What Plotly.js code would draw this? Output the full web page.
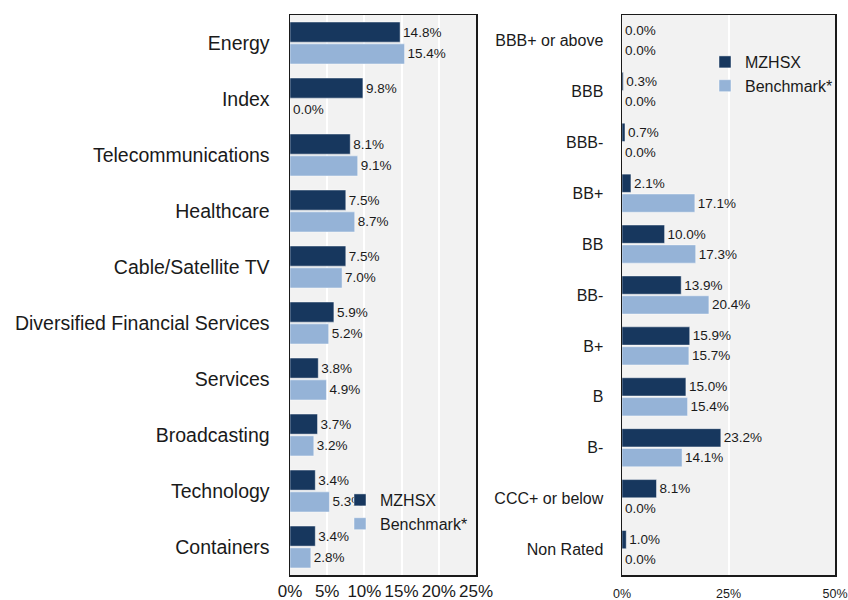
<!DOCTYPE html>
<html>
<head>
<meta charset="utf-8">
<script src="https://cdn.plot.ly/plotly-3.0.1.min.js"></script>
<style>
html,body{margin:0;padding:0;background:#fff;}
#chart{width:848px;height:600px;}
</style>
</head>
<body>
<div id="chart"></div>
<script>
// ---- Data ----
const sectors = ["Energy", "Index", "Telecommunications", "Healthcare", "Cable/Satellite TV",
  "Diversified Financial Services", "Services", "Broadcasting", "Technology", "Containers"];
const sectorFund = [14.8, 9.8, 8.1, 7.5, 7.5, 5.9, 3.8, 3.7, 3.4, 3.4];
const sectorBench = [15.4, 0.0, 9.1, 8.7, 7.0, 5.2, 4.9, 3.2, 5.3, 2.8];

const ratings = ["BBB+ or above", "BBB", "BBB-", "BB+", "BB", "BB-", "B+", "B", "B-", "CCC+ or below", "Non Rated"];
const ratingFund = [0.0, 0.3, 0.7, 2.1, 10.0, 13.9, 15.9, 15.0, 23.2, 8.1, 1.0];
const ratingBench = [0.0, 0.0, 0.0, 17.1, 17.3, 20.4, 15.7, 15.4, 14.1, 0.0, 0.0];

const seriesNames = ["MZHSX", "Benchmark*"];
const leftTicks = [0, 5, 10, 15, 20, 25];
const rightTicks = [0, 25, 50];

// ---- Styles ----
const FONT = '"Liberation Sans", Arial, Helvetica, sans-serif';
const DARK = '#17375e';
const LIGHT = '#95b3d7';
const TXT = '#1a1a1a';

function barTrace(name, x, y, color, xa, ya, legend) {
  return {
    type: 'bar', orientation: 'h', name: name, x: x, y: y,
    xaxis: xa, yaxis: ya, legend: legend,
    marker: {color: color, line: {color: 'rgba(255,255,255,0.45)', width: 1}},
    text: x.map(v => v.toFixed(1) + '%'),
    textposition: 'outside', cliponaxis: false, constraintext: 'none',
    textfont: {family: FONT, size: 13.5, color: TXT},
    hoverinfo: 'x+y'
  };
}

const data = [
  barTrace(seriesNames[0], sectorFund, sectors, DARK, 'x', 'y', 'legend'),
  barTrace(seriesNames[1], sectorBench, sectors, LIGHT, 'x', 'y', 'legend'),
  barTrace(seriesNames[0], ratingFund, ratings, DARK, 'x2', 'y2', 'legend2'),
  barTrace(seriesNames[1], ratingBench, ratings, LIGHT, 'x2', 'y2', 'legend2')
];

const W = 848, H = 600;
const yDom = [1 - 575 / H, 1 - 15 / H];

const axisFrame = {showline: true, mirror: true, linecolor: TXT, linewidth: 1.5};

const layout = {
  width: W, height: H,
  margin: {l: 0, r: 0, t: 0, b: 0},
  paper_bgcolor: '#ffffff',
  plot_bgcolor: '#f2f2f2',
  font: {family: FONT, color: TXT},
  barmode: 'group', bargap: 0.22, bargroupgap: 0.08,
  xaxis: Object.assign({
    domain: [290 / W, 476 / W], range: [0, 25], anchor: 'y',
    tickvals: leftTicks, ticktext: leftTicks.map(v => v + '%'),
    showgrid: true, gridcolor: '#ffffff', gridwidth: 2, zeroline: false,
    ticks: '', ticklabeloverflow: 'allow',
    tickfont: {family: FONT, size: 17, color: TXT}, fixedrange: true
  }, axisFrame),
  yaxis: Object.assign({
    domain: yDom, anchor: 'x', autorange: 'reversed', type: 'category',
    showgrid: false, zeroline: false,
    ticks: 'outside', ticklen: 15, tickcolor: 'rgba(0,0,0,0)',
    tickfont: {family: FONT, size: 19.5, color: TXT}, fixedrange: true
  }, axisFrame),
  xaxis2: Object.assign({
    domain: [622 / W, 835 / W], range: [0, 50], anchor: 'y2',
    tickvals: rightTicks, ticktext: rightTicks.map(v => v + '%'),
    showgrid: true, gridcolor: '#ffffff', gridwidth: 2, zeroline: false,
    ticks: 'outside', ticklen: 6, tickcolor: 'rgba(0,0,0,0)', ticklabeloverflow: 'allow',
    tickfont: {family: FONT, size: 12.5, color: TXT}, fixedrange: true
  }, axisFrame),
  yaxis2: Object.assign({
    domain: yDom, anchor: 'x2', autorange: 'reversed', type: 'category',
    showgrid: false, zeroline: false,
    ticks: 'outside', ticklen: 14, tickcolor: 'rgba(0,0,0,0)',
    tickfont: {family: FONT, size: 16, color: TXT}, fixedrange: true
  }, axisFrame),
  legend: {
    x: 340 / W, y: 1 - 483 / H, xanchor: 'left', yanchor: 'top',
    bgcolor: 'rgba(0,0,0,0)', borderwidth: 0, tracegroupgap: 0,
    font: {family: FONT, size: 16, color: TXT}, traceorder: 'normal'
  },
  legend2: {
    x: 705 / W, y: 1 - 45 / H, xanchor: 'left', yanchor: 'top',
    bgcolor: 'rgba(0,0,0,0)', borderwidth: 0, tracegroupgap: 0,
    font: {family: FONT, size: 16, color: TXT}, traceorder: 'normal'
  },
  showlegend: true
};

Plotly.newPlot('chart', data, layout, {displayModeBar: false, staticPlot: true});
</script>
</body>
</html>
